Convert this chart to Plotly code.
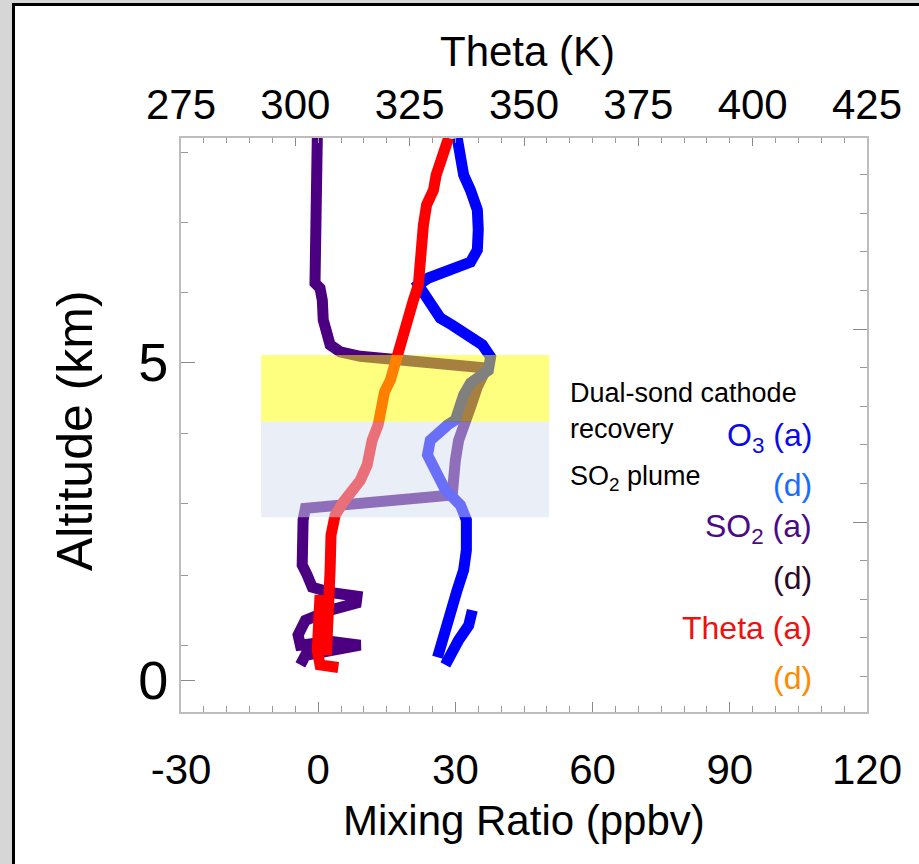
import plotly.graph_objects as go

# ---- profile data (altitude in km) ----
so2_ppbv = [-0.2, -0.4, -0.7, -0.9, -0.7, 0.4, 0.9, 1.1, 1.8, 2.6, 4.8, 9.2, 18.0, 28.9, 36.1,
            36.1, 34.8, 33.3, 31.8, 30.7, 30.0, 29.6, 29.3, 24.5, 13.6, 2.6, -2.8, -3.3, -3.3,
            -3.5, -2.4, -1.3, 2.6, 8.5, 8.3, 2.6, -2.8, -4.4, -3.9, 2.6, 9.2, 2.6, -2.8, -3.9]
so2_alt = [8.52, 8.02, 7.50, 6.76, 6.24, 6.16, 5.97, 5.66, 5.46, 5.27, 5.16, 5.09, 5.03, 4.97, 4.91,
           4.80, 4.61, 4.29, 3.98, 3.77, 3.46, 3.14, 2.91, 2.88, 2.81, 2.75, 2.70, 2.52, 2.00,
           1.81, 1.65, 1.46, 1.38, 1.32, 1.21, 1.10, 0.94, 0.71, 0.55, 0.61, 0.55, 0.47, 0.39, 0.24]

o3_ppbv = [30.4, 30.9, 31.8, 33.3, 34.8, 35.0, 34.8, 33.3, 28.9, 24.1, 21.9, 23.4, 25.2, 26.7,
           29.3, 33.3, 35.9, 37.7, 37.2, 33.3, 31.8, 30.0, 28.3, 24.5, 23.9, 25.6, 27.8, 31.1,
           32.4, 32.4, 31.8, 30.4, 28.9, 27.4, 26.1,
           None, 33.7, 32.9, 30.7, 27.8]
o3_alt = [8.52, 8.18, 7.94, 7.70, 7.39, 7.08, 6.76, 6.57, 6.45, 6.32, 6.21, 6.05, 5.90, 5.69,
          5.58, 5.42, 5.27, 5.08, 4.87, 4.67, 4.48, 4.09, 4.01, 3.77, 3.54, 3.30, 2.99, 2.75,
          2.52, 2.04, 1.73, 1.42, 1.02, 0.63, 0.36,
          None, 1.10, 0.86, 0.63, 0.24]

theta_k = [333.5, 332.2, 330.8, 330.2, 328.7, 328.0, 327.6, 327.3, 326.9, 325.8, 324.7, 323.4,
           322.3, 321.4, 320.8, 319.5, 319.0, 318.1, 316.8, 315.7, 314.2, 312.4, 310.5, 308.7,
           307.8, 307.6, 307.2, 307.0, 306.8,
           None, 305.4, 305.0, 304.8, 305.4, 309.4]
theta_alt = [8.52, 8.29, 7.94, 7.70, 7.47, 7.15, 6.76, 6.45, 6.21, 5.97, 5.69, 5.42,
             5.19, 4.95, 4.72, 4.53, 4.25, 4.01, 3.77, 3.38, 3.14, 2.99, 2.80, 2.59,
             2.28, 1.73, 1.26, 0.79, 0.39,
             None, 1.34, 0.94, 0.47, 0.24, 0.20]

# ---- highlighted layers ----
cathode_box = dict(x0=-12.5, x1=50.5, y0=4.06, y1=5.11)
plume_box = dict(x0=-12.5, x1=50.5, y0=2.56, y1=4.06)

# ---- axes ----
mix_ticks = [-30, 0, 30, 60, 90, 120]
mix_labels = ["-30", "0", "30", "60", "90", "120"]
theta_ticks = [275, 300, 325, 350, 375, 400, 425]
alt_ticks = [0, 5]
alt_minor = [8.30, 7.19, 6.09, 3.88, 2.77, 1.65, 0.55]

legend_labels = ["O<sub>3</sub> (a)", "(d)", "SO<sub>2</sub> (a)", "(d)", "Theta (a)", "(d)"]
legend_colors = ["#0a0aee", "#1a6bff", "#4b0a85", "#2a0a28", "#f01010", "#ff8a00"]

W, H = 919, 864
ML, MR, MT, MB = 181, 52, 138, 152
PW, PH = W - ML - MR, H - MT - MB


def px(xp):
    return (xp - ML) / PW


def py(yp):
    return (H - MB - yp) / PH


SANS = "Liberation Sans, Arial, Helvetica, sans-serif"

fig = go.Figure()
fig.add_trace(go.Scatter(x=so2_ppbv, y=so2_alt, mode="lines", connectgaps=False,
                         line=dict(color="#4b0082", width=11), showlegend=False))
fig.add_trace(go.Scatter(x=theta_k, y=theta_alt, mode="lines", xaxis="x2", connectgaps=False,
                         line=dict(color="#ff0000", width=11), showlegend=False))
fig.add_trace(go.Scatter(x=o3_ppbv, y=o3_alt, mode="lines", connectgaps=False,
                         line=dict(color="#0000ff", width=11), showlegend=False))
fig.add_trace(go.Scatter(x=[None], y=[None], yaxis="y2", showlegend=False, hoverinfo="skip"))

fig.add_shape(type="rect", xref="x", yref="y", layer="above", line_width=0,
              fillcolor="#ffff00", opacity=0.5, **cathode_box)
fig.add_shape(type="rect", xref="x", yref="y", layer="above", line_width=0,
              fillcolor="#d3ddef", opacity=0.5, **plume_box)

axis_line = dict(showline=True, linecolor="#bdbdbd", linewidth=2, showgrid=False,
                 zeroline=False, automargin=False, ticks="inside", tickcolor="#8a8a8a")

fig.update_layout(
    width=W, height=H, margin=dict(l=ML, r=MR, t=MT, b=MB),
    paper_bgcolor="white", plot_bgcolor="white",
    xaxis=dict(range=[-30, 120], tickvals=mix_ticks, ticktext=mix_labels, ticklen=10,
               ticklabelstandoff=20,
               tickfont=dict(family=SANS, size=42, color="black"),
               minor=dict(ticks="inside", tickmode="linear", tick0=0, dtick=5, ticklen=6,
                          tickcolor="#9a9a9a"),
               **axis_line),
    xaxis2=dict(range=[275, 425], overlaying="x", side="top", anchor="y",
                tickvals=theta_ticks, ticklen=8,
                tickfont=dict(family=SANS, size=42, color="black"),
                minor=dict(ticks="inside", tickmode="linear", tick0=275, dtick=5, ticklen=5,
                           tickcolor="#9a9a9a"),
                **axis_line),
    yaxis=dict(range=[-0.5, 8.52], tickvals=alt_ticks, ticklen=14,
               tickfont=dict(family=SANS, size=54, color="black"),
               minor=dict(ticks="inside", tickvals=alt_minor, ticklen=7, tickcolor="#9a9a9a"),
               **axis_line),
    yaxis2=dict(range=[0.08, 14.95], overlaying="y", side="right", anchor="x",
                tickmode="linear", tick0=0, dtick=5, ticklen=14, showticklabels=False,
                minor=dict(ticks="inside", tickmode="linear", tick0=0, dtick=1, ticklen=7,
                           tickcolor="#9a9a9a"),
                **axis_line),
)

ann = []
ann.append(dict(text="Theta (K)", x=px(527), y=py(52), font=dict(family=SANS, size=42)))
ann.append(dict(text="Mixing Ratio (ppbv)", x=px(524), y=py(820), font=dict(family=SANS, size=42)))
ann.append(dict(text="Altitude (km)", x=px(75), y=py(431), textangle=-90,
                font=dict(family=SANS, size=50)))
ann.append(dict(text="Dual-sond cathode", x=px(568), y=py(393), xanchor="left",
                font=dict(family=SANS, size=27)))
ann.append(dict(text="recovery", x=px(568), y=py(429), xanchor="left",
                font=dict(family=SANS, size=27)))
ann.append(dict(text="SO<sub>2</sub> plume", x=px(568), y=py(478), xanchor="left",
                font=dict(family=SANS, size=27)))
legend_y = [437, 485, 528, 578, 628, 678]
for lab, col, yy in zip(legend_labels, legend_colors, legend_y):
    ann.append(dict(text=lab, x=px(814), y=py(yy), xanchor="right",
                    font=dict(family=SANS, size=32, color=col)))
for a in ann:
    a.setdefault("xanchor", "center")
    a.update(xref="paper", yref="paper", yanchor="middle", showarrow=False)
    a["font"].setdefault("color", "black")
fig.update_layout(annotations=ann)

# outer frame: grey strip with a black border along the left and top edges
fig.add_shape(type="rect", xref="paper", yref="paper", x0=px(0), x1=px(W + 5), y0=py(-5), y1=py(H + 5),
              fillcolor="#d6d6d6", line_width=0, layer="below")
fig.add_shape(type="rect", xref="paper", yref="paper", x0=px(13.5), x1=px(W + 20), y0=py(4.5), y1=py(H + 20),
              fillcolor="white", line=dict(color="black", width=3), layer="below")

fig.write_html("out.html")
